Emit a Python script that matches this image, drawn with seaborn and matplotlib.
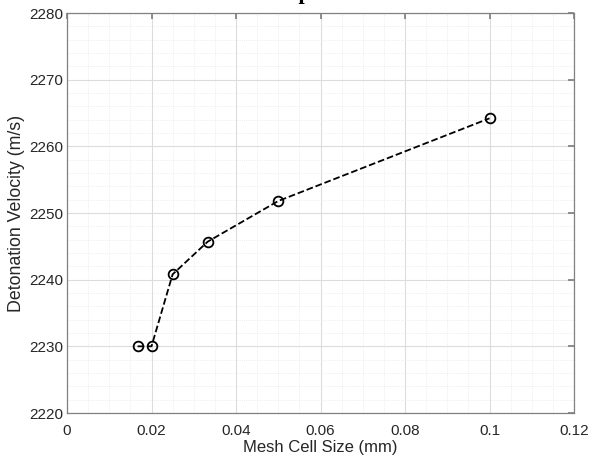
import matplotlib
matplotlib.use("Agg")
import matplotlib.pyplot as plt
import seaborn as sns
import pandas as pd
from matplotlib.ticker import MultipleLocator

cell_size = [0.0167, 0.02, 0.025, 0.0333, 0.05, 0.1]
velocity = [2230.0, 2230.0, 2240.8, 2245.7, 2251.8, 2264.2]
x_ticks = [0, 0.02, 0.04, 0.06, 0.08, 0.1, 0.12]
x_tick_labels = ["0", "0.02", "0.04", "0.06", "0.08", "0.1", "0.12"]
y_ticks = [2220, 2230, 2240, 2250, 2260, 2270, 2280]

df = pd.DataFrame({"size": cell_size, "vel": velocity})

sns.set_theme(style="white")
plt.rcParams["font.family"] = ["Liberation Sans", "DejaVu Sans"]

fig = plt.figure(figsize=(5.9, 4.61), dpi=100)
ax = fig.add_axes([67 / 590, 1 - 413 / 461, 507 / 590, 400 / 461])

sns.lineplot(data=df, x="size", y="vel", ax=ax, color="black", linestyle="--",
             linewidth=1.3, marker="o", markersize=7, markerfacecolor="none",
             markeredgecolor="black", markeredgewidth=1.3)

ax.set_xlim(0, 0.12)
ax.set_ylim(2220, 2280)
ax.set_xticks(x_ticks)
ax.set_xticklabels(x_tick_labels)
ax.set_yticks(y_ticks)
ax.xaxis.set_minor_locator(MultipleLocator(0.005))
ax.yaxis.set_minor_locator(MultipleLocator(2))
ax.grid(True, which="major", color="#dcdcdc", linewidth=0.8)
ax.grid(True, which="minor", color="#e6e6e6", linewidth=0.6, linestyle=":")
ax.set_axisbelow(True)
for s in ax.spines.values():
    s.set_color("#808080")
    s.set_linewidth(0.9)
ax.tick_params(which="major", direction="in", length=4, color="#808080",
               top=True, right=True, labelsize=11, labelcolor="#262626")
ax.tick_params(axis="x", which="major", pad=8)
ax.tick_params(axis="y", which="major", pad=3)
ax.tick_params(which="minor", length=0)
ax.set_xlabel("Mesh Cell Size (mm)", fontsize=12, color="#262626", labelpad=1)
ax.set_ylabel("Detonation Velocity (m/s)", fontsize=12.8, color="#262626", labelpad=3)

fig.text(170 / 590, 1 + 1 / 461,
         "Cell size sweep: influence of the mesh on the detonation velocity",
         family=["Liberation Serif", "DejaVu Serif"], fontsize=16, fontweight="bold",
         ha="left", va="baseline", color="black")

fig.savefig("out.png", dpi=100)
